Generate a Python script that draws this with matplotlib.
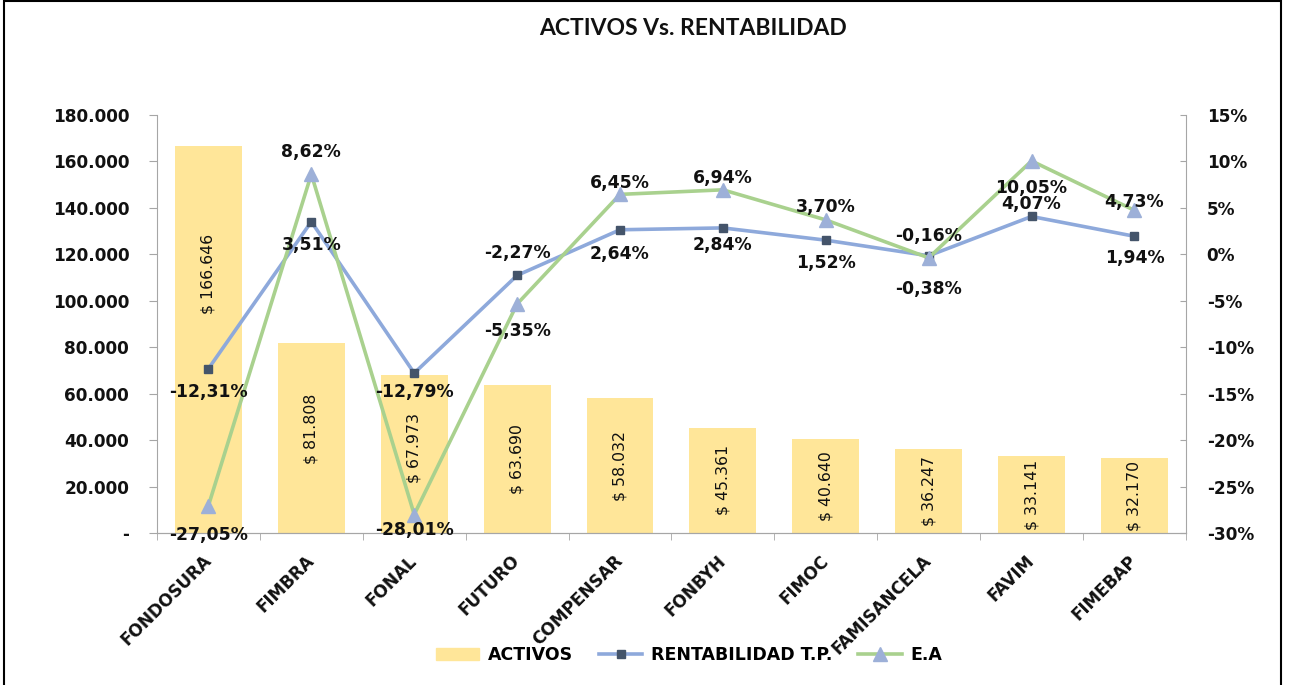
import numpy as np
import matplotlib
matplotlib.use("Agg")
import matplotlib.pyplot as plt
from matplotlib.lines import Line2D
from matplotlib.patches import Patch, Rectangle
from matplotlib.ticker import FuncFormatter, MultipleLocator

# data
fondos = ["FONDOSURA", "FIMBRA", "FONAL", "FUTURO", "COMPENSAR",
          "FONBYH", "FIMOC", "FAMISANCELA", "FAVIM", "FIMEBAP"]
activos = [166646, 81808, 67973, 63690, 58032, 45361, 40640, 36247, 33141, 32170]
rent_tp = [-12.31, 3.51, -12.79, -2.27, 2.64, 2.84, 1.52, -0.16, 4.07, 1.94]
ea = [-27.05, 8.62, -28.01, -5.35, 6.45, 6.94, 3.70, -0.38, 10.05, 4.73]

# label placement (pixel offsets from the point, negative = below)
rent_off = [-23, -23, -19, 22, -24, -17, -23, 20, 12, -22]
ea_off = [-29, 22, -15, -27, 11, 12, 13, -31, -27, 8]
bar_lbl_frac = [0.67, 0.55, 0.54, 0.5, 0.5, 0.5, 0.5, 0.5, 0.5, 0.5]

BAR = "#FFE699"
BLUE = "#8EA9DB"
NAVY = "#44546A"
GREEN = "#A9D18E"
TRI = "#9DB0D8"
TXT = "#111111"

fig = plt.figure(figsize=(12.89, 6.85), dpi=100)
ax = fig.add_axes([0.1218, 0.2219, 0.7982, 0.6103])
ax2 = ax.twinx()

x = np.arange(len(fondos))
ax.bar(x, activos, width=0.65, color=BAR, zorder=1)
for xi, v, f in zip(x, activos, bar_lbl_frac):
    ax.text(xi, v * f, f"$ {v:,.0f}".replace(",", "."), rotation=90, ha="center",
            va="center", fontsize=11.3, color=TXT, family="DejaVu Sans")

ax.set_xlim(-0.5, len(fondos) - 0.5)
ax.set_ylim(0, 180000)
ax.yaxis.set_major_locator(MultipleLocator(20000))
ax.yaxis.set_major_formatter(FuncFormatter(lambda v, p: "-" if v == 0 else f"{v:,.0f}".replace(",", ".")))

ax2.plot(x, rent_tp, color=BLUE, lw=2.6, marker="s", ms=6, mfc=NAVY, mec=NAVY, zorder=3)
ax2.plot(x, ea, color=GREEN, lw=2.6, marker="^", ms=10.5, mfc=TRI, mec=TRI, zorder=4)
ax2.set_ylim(-30, 15)
ax2.yaxis.set_major_locator(MultipleLocator(5))
ax2.yaxis.set_major_formatter(FuncFormatter(lambda v, p: f"{v:.0f}%"))

for xi, v, o in zip(x, rent_tp, rent_off):
    ax2.annotate(f"{v:.2f}%".replace(".", ","), (xi, v), xytext=(0, o), textcoords="offset pixels",
                 ha="center", va="center", fontsize=12.4, fontweight="bold", color=TXT, zorder=6)
for xi, v, o in zip(x, ea, ea_off):
    ax2.annotate(f"{v:.2f}%".replace(".", ","), (xi, v), xytext=(0, o), textcoords="offset pixels",
                 ha="center", va="center", fontsize=12.4, fontweight="bold", color=TXT, zorder=6)

# axes styling
for a in (ax, ax2):
    a.spines["top"].set_visible(False)
    for s in ("left", "right", "bottom"):
        a.spines[s].set_color("#A6A6A6")
ax.spines["right"].set_visible(False)
ax2.spines["left"].set_visible(False)
ax.tick_params(axis="y", direction="out", length=6, color="#A6A6A6", labelsize=12.2, pad=14)
ax2.tick_params(axis="y", direction="in", length=4, color="#A6A6A6", labelsize=12.2, pad=15)
for lbl in ax.get_yticklabels() + ax2.get_yticklabels():
    lbl.set_fontweight("bold")
    lbl.set_color(TXT)

ax.set_xticks(x)
ax.set_xticks(np.arange(len(fondos) + 1) - 0.5, minor=True)
ax.tick_params(axis="x", which="major", length=0, pad=18)
ax.tick_params(axis="x", which="minor", length=5, color="#A6A6A6", direction="out")
ax.set_xticklabels(fondos, rotation=45, ha="right", va="center", rotation_mode="anchor",
                   fontsize=12.2, fontweight="bold", color=TXT)

fig.text(0.538, 0.958, "ACTIVOS Vs. RENTABILIDAD", ha="center", va="center",
         fontsize=16.5, fontweight="bold", family="Lato", color=TXT)

handles = [Patch(color=BAR),
           Line2D([], [], color=BLUE, lw=2.6, marker="s", ms=6, mfc=NAVY, mec=NAVY),
           Line2D([], [], color=GREEN, lw=2.6, marker="^", ms=9.5, mfc=TRI, mec=TRI)]
fig.legend(handles, ["ACTIVOS", "RENTABILIDAD T.P.", "E.A"], loc="center",
           bbox_to_anchor=(0.5345, 0.044), ncol=3, frameon=False, handlelength=2.5,
           handletextpad=0.5, columnspacing=1.5, prop={"weight": "bold", "size": 12.5})

fig.patches.append(Rectangle((0.003, -0.01), 0.991, 1.008, transform=fig.transFigure,
                             fill=False, ec="black", lw=1.5))

fig.savefig("out.png", dpi=100)
